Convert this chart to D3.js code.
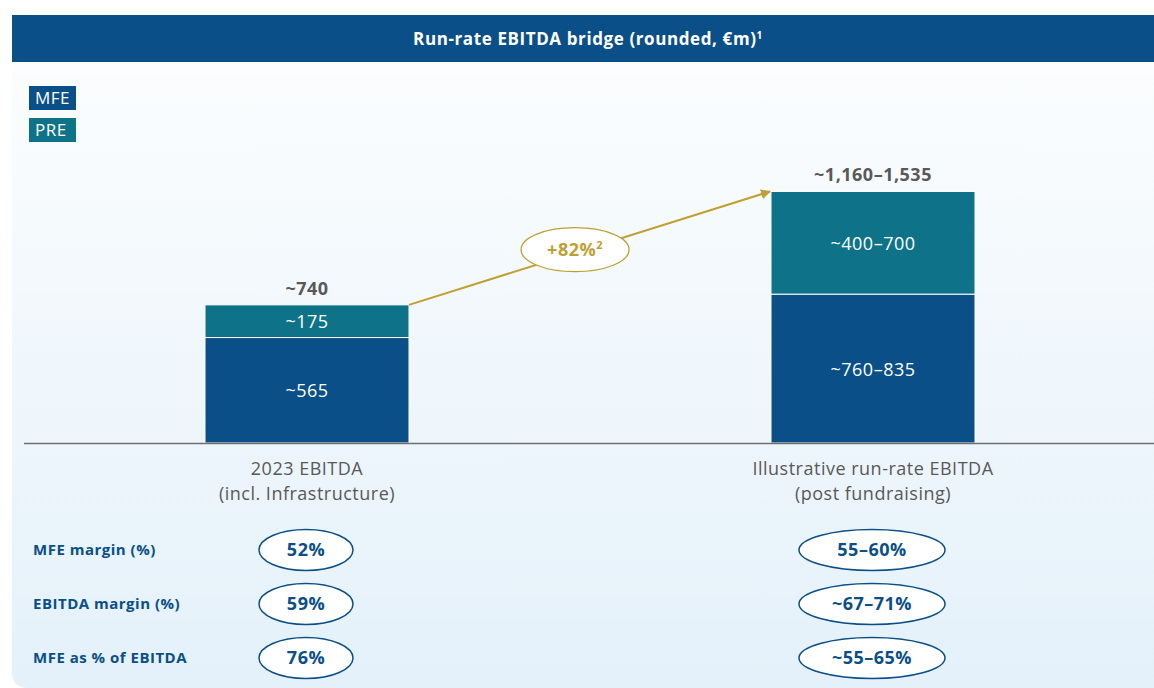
<!DOCTYPE html>
<html>
<head>
<meta charset="utf-8">
<script src="https://cdn.jsdelivr.net/npm/d3@7"></script>
<style>
  body { margin: 0; background: #ffffff; }
  svg { display: block; font-family: "Open Sans", "DejaVu Sans", sans-serif; letter-spacing: 0.5px; }
</style>
</head>
<body>
<svg id="chart" width="1154" height="688"></svg>
<script>
// chart values
const categories = ["2023 EBITDA", "Illustrative run-rate EBITDA"];
const categorySubs = ["(incl. Infrastructure)", "(post fundraising)"];
const mfeValues = [565, 797.5];   // right bar drawn at range midpoint (760–835)
const preValues = [175, 550];     // right bar drawn at range midpoint (400–700)
const mfeLabels = ["~565", "~760–835"];
const preLabels = ["~175", "~400–700"];
const totalLabels = ["~740", "~1,160–1,535"];
const growthLabel = "+82%";
const metricNames = ["MFE margin (%)", "EBITDA margin (%)", "MFE as % of EBITDA"];
const metricValues2023 = ["52%", "59%", "76%"];
const metricValuesRunRate = ["55–60%", "~67–71%", "~55–65%"];

const W = 1154, H = 688;
const dark = "#0a4f87", teal = "#0e7389", gold = "#bfa032", grey = "#595959";
const svg = d3.select("#chart");

// background panel with gradient
const defs = svg.append("defs");
const grad = defs.append("linearGradient").attr("id", "bg").attr("x1", 0).attr("y1", 0).attr("x2", 0).attr("y2", 1);
grad.append("stop").attr("offset", "0%").attr("stop-color", "#fbfdfe");
grad.append("stop").attr("offset", "100%").attr("stop-color", "#e4f1fa");
svg.append("path")
  .attr("d", `M12,62 H${W} V${H} H28 Q12,${H} 12,${H - 16} Z`)
  .attr("fill", "url(#bg)");

// header
svg.append("rect").attr("x", 12).attr("y", 15).attr("width", W - 12).attr("height", 47).attr("fill", dark);
const title = svg.append("text").attr("x", 588).attr("y", 45)
  .attr("text-anchor", "middle").attr("fill", "#fff")
  .style("font-size", "17px").style("font-weight", "bold").style("letter-spacing", "0.6px")
  .text("Run-rate EBITDA bridge (rounded, €m)");
title.append("tspan").attr("dy", -6).style("font-size", "10px").text("1");

// legend
const legend = [{ k: "MFE", c: dark }, { k: "PRE", c: teal }];
const lg = svg.selectAll(".lg").data(legend).enter().append("g")
  .attr("transform", (d, i) => `translate(29,${86 + i * 32})`);
lg.append("rect").attr("width", 47).attr("height", 24).attr("fill", d => d.c);
lg.append("text").attr("x", 6).attr("y", 18).attr("fill", "#fff")
  .style("font-size", "17px").text(d => d.k);

// scales
const x = d3.scalePoint().domain(categories).range([307, 873]);
const barW = 204;
const y = d3.scaleLinear().domain([0, 1500]).range([443, 163]);

const data = categories.map((c, i) => ({
  cat: c, mfe: mfeValues[i], pre: preValues[i],
  mfeLabel: mfeLabels[i], preLabel: preLabels[i], total: totalLabels[i], sub: categorySubs[i]
}));

// bars
const bars = svg.selectAll(".bar").data(data).enter().append("g");
bars.append("rect")
  .attr("x", d => x(d.cat) - barW / 2).attr("width", barW)
  .attr("y", d => y(d.mfe)).attr("height", d => y(0) - y(d.mfe))
  .attr("fill", dark).attr("stroke", "#ffffff").attr("stroke-width", 1);
bars.append("rect")
  .attr("x", d => x(d.cat) - barW / 2).attr("width", barW)
  .attr("y", d => y(d.mfe + d.pre)).attr("height", d => y(d.mfe) - y(d.mfe + d.pre))
  .attr("fill", teal).attr("stroke", "#ffffff").attr("stroke-width", 1);

bars.append("text").attr("x", d => x(d.cat)).attr("y", d => (y(0) + y(d.mfe)) / 2)
  .attr("text-anchor", "middle").attr("dominant-baseline", "central")
  .attr("fill", "#fff").style("font-size", "18px").text(d => d.mfeLabel);
bars.append("text").attr("x", d => x(d.cat)).attr("y", d => (y(d.mfe) + y(d.mfe + d.pre)) / 2)
  .attr("text-anchor", "middle").attr("dominant-baseline", "central")
  .attr("fill", "#fff").style("font-size", "18px").text(d => d.preLabel);
bars.append("text").attr("x", d => x(d.cat)).attr("y", d => y(d.mfe + d.pre) - 10)
  .attr("text-anchor", "middle").attr("fill", grey)
  .style("font-size", "18px").style("font-weight", "bold").text(d => d.total);

// baseline
svg.append("line").attr("x1", 24).attr("x2", W).attr("y1", y(0) + 0.5).attr("y2", y(0) + 0.5)
  .attr("stroke", "#6f6f6f").attr("stroke-width", 1.6);

// category labels
const cl = svg.selectAll(".cl").data(data).enter().append("text")
  .attr("text-anchor", "middle").attr("fill", grey).style("font-size", "18px");
cl.append("tspan").attr("x", d => x(d.cat)).attr("y", 475).text(d => d.cat);
cl.append("tspan").attr("x", d => x(d.cat)).attr("y", 500).text(d => d.sub);

// growth arrow
defs.append("marker").attr("id", "arr").attr("viewBox", "0 0 10 10")
  .attr("refX", 9).attr("refY", 5).attr("markerWidth", 5).attr("markerHeight", 5)
  .attr("orient", "auto").append("path").attr("d", "M0,0 L10,5 L0,10 Z").attr("fill", gold);
const a0 = [x(categories[0]) + barW / 2, y(data[0].mfe + data[0].pre)];
const a1 = [x(categories[1]) - barW / 2 - 1, y(data[1].mfe + data[1].pre)];
svg.append("line").attr("x1", a0[0]).attr("y1", a0[1]).attr("x2", a1[0]).attr("y2", a1[1])
  .attr("stroke", gold).attr("stroke-width", 2).attr("marker-end", "url(#arr)");
const t = 0.46;
const ec = [a0[0] + (a1[0] - a0[0]) * t, a0[1] + (a1[1] - a0[1]) * t - 3];
svg.append("ellipse").attr("cx", ec[0]).attr("cy", ec[1]).attr("rx", 54).attr("ry", 22)
  .attr("fill", "#fff").attr("stroke", gold).attr("stroke-width", 1.3);
const gt = svg.append("text").attr("x", ec[0]).attr("y", ec[1] + 6)
  .attr("text-anchor", "middle").attr("fill", gold)
  .style("font-size", "18px").style("font-weight", "bold").text(growthLabel);
gt.append("tspan").attr("dy", -7).style("font-size", "11px").text("2");

// metric rows
const rowY = d3.scalePoint().domain(metricNames).range([550, 658]);
svg.selectAll(".mn").data(metricNames).enter().append("text")
  .attr("x", 33).attr("y", d => rowY(d) + 5).attr("fill", dark)
  .style("font-size", "15px").style("font-weight", "bold").text(d => d);

const cells = [];
metricNames.forEach((m, i) => {
  cells.push({ m, cat: categories[0], v: metricValues2023[i], rx: 47 });
  cells.push({ m, cat: categories[1], v: metricValuesRunRate[i], rx: 73 });
});
const cg = svg.selectAll(".cell").data(cells).enter().append("g")
  .attr("transform", d => `translate(${x(d.cat) - 1},${rowY(d.m)})`);
cg.append("ellipse").attr("rx", d => d.rx).attr("ry", 20.5)
  .attr("fill", "#fff").attr("stroke", dark).attr("stroke-width", 1.5);
cg.append("text").attr("y", 6).attr("text-anchor", "middle").attr("fill", dark)
  .style("font-size", "18px").style("font-weight", "bold").text(d => d.v);
</script>
</body>
</html>
